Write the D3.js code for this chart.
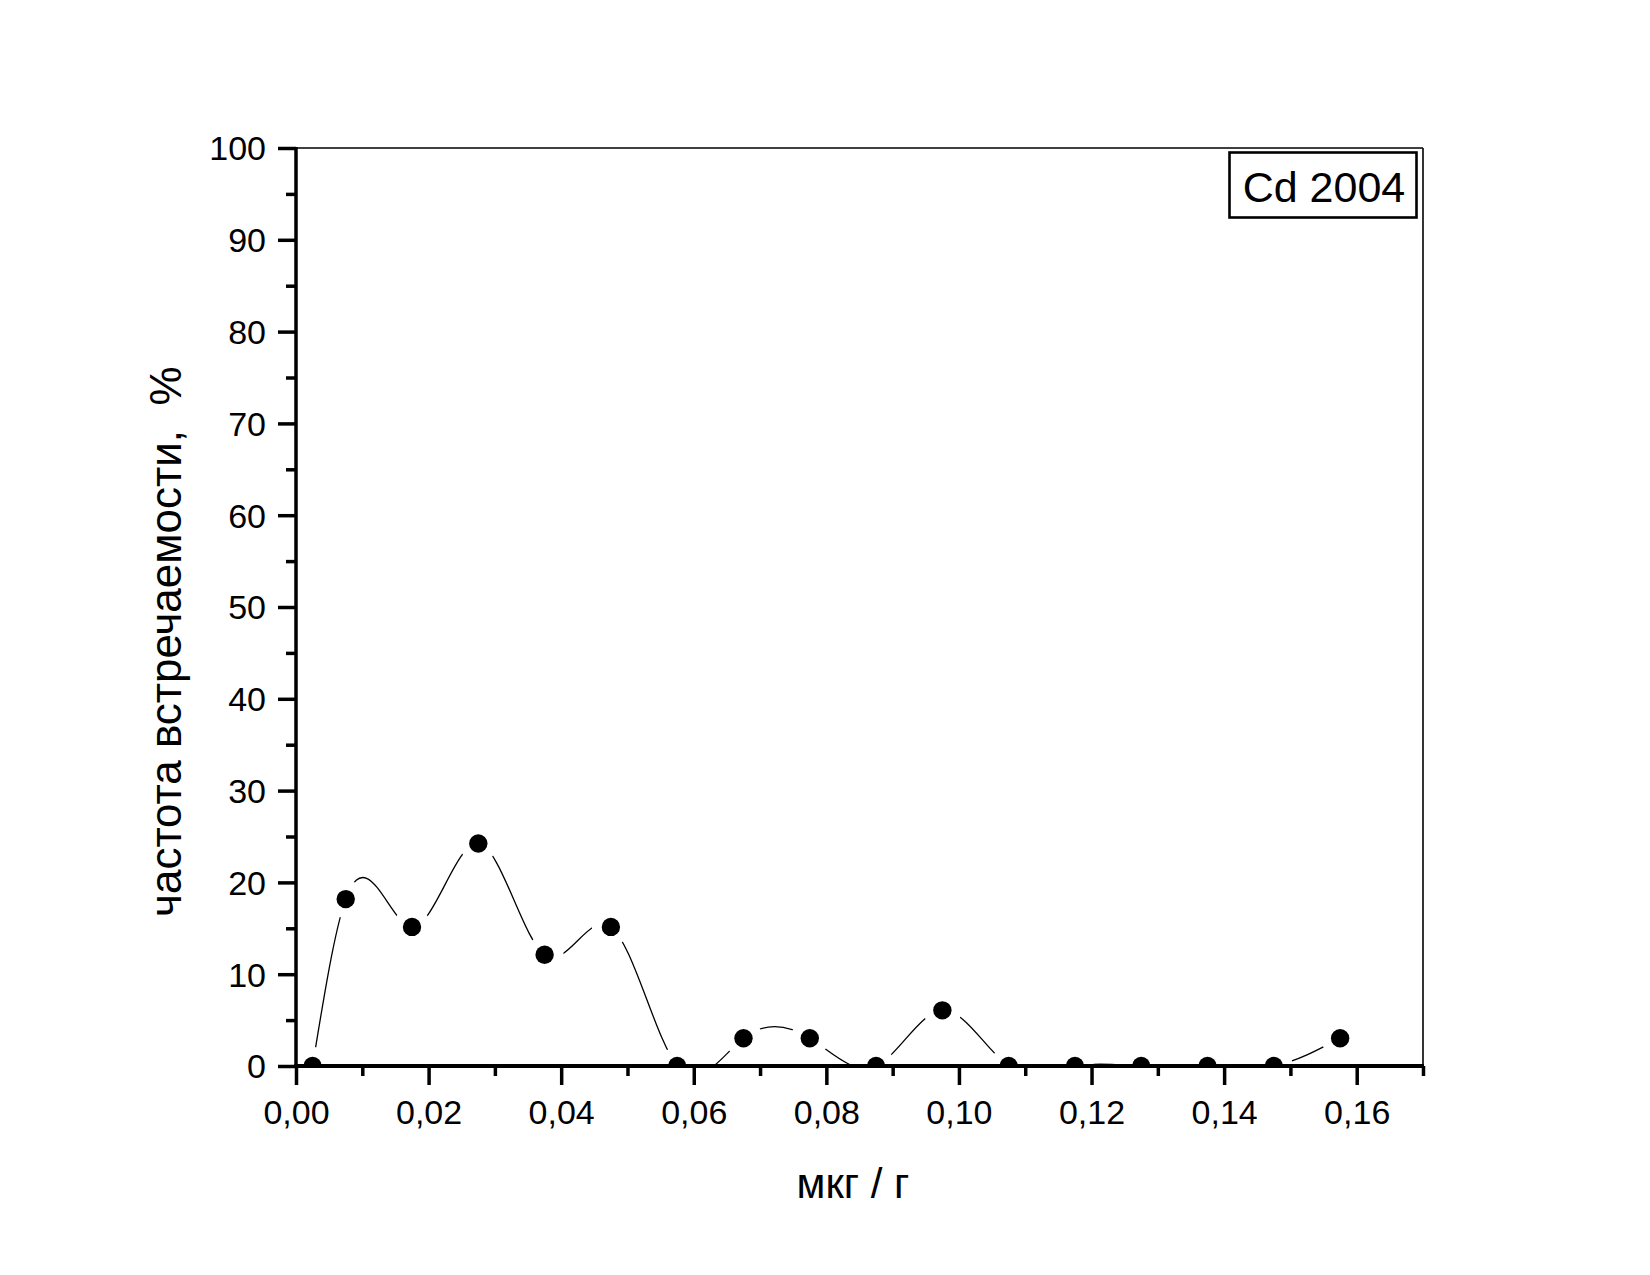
<!DOCTYPE html>
<html>
<head>
<meta charset="utf-8">
<script src="https://cdn.jsdelivr.net/npm/d3@7"></script>
<style>
  html, body { margin: 0; padding: 0; background: #fff; }
  svg { display: block; }
  text { font-family: Arial, "Liberation Sans", Helvetica, sans-serif; fill: #000; }
</style>
</head>
<body>
<svg id="chart" width="1650" height="1275"></svg>
<script>
// ---- data ----
const concentration = [0.0025, 0.0075, 0.0175, 0.0275, 0.0375, 0.0475, 0.0575, 0.0675, 0.0775, 0.0875, 0.0975, 0.1075, 0.1175, 0.1275, 0.1375, 0.1475, 0.1575];
const frequency = [0, 18.18, 15.15, 24.24, 12.12, 15.15, 0, 3.03, 3.03, 0, 6.06, 0, 0, 0, 0, 0, 3.03];
const xMajorTicks = [0, 0.02, 0.04, 0.06, 0.08, 0.10, 0.12, 0.14, 0.16];
const yMajorTicks = [0, 10, 20, 30, 40, 50, 60, 70, 80, 90, 100];
const labelText = "Cd 2004";
const xTitle = "мкг / г";
const yTitle = "частота встречаемости,  %";

// D3 curve factory: natural cubic spline y(x) (function spline, like Origin's "Spline" connect)
function SplineX(context) { this._context = context; }
SplineX.prototype = {
  areaStart() { this._line = 0; },
  areaEnd() { this._line = NaN; },
  lineStart() { this._x = []; this._y = []; },
  point(x, y) { this._x.push(+x); this._y.push(+y); },
  lineEnd() {
    const X = this._x, Y = this._y, n = X.length, ctx = this._context;
    if (!n) return;
    ctx.moveTo(X[0], Y[0]);
    if (n === 1) return;
    if (n === 2) { ctx.lineTo(X[1], Y[1]); return; }
    const h = [];
    for (let i = 0; i < n - 1; i++) h.push(X[i + 1] - X[i]);
    // tridiagonal system for second derivatives M (natural: M0 = Mn = 0)
    const M = new Array(n).fill(0);
    const a = [], b = [], c = [], r = [];
    for (let i = 1; i < n - 1; i++) {
      a.push(h[i - 1]); b.push(2 * (h[i - 1] + h[i])); c.push(h[i]);
      r.push(6 * ((Y[i + 1] - Y[i]) / h[i] - (Y[i] - Y[i - 1]) / h[i - 1]));
    }
    const m = b.length;
    for (let i = 1; i < m; i++) {
      const w = a[i] / b[i - 1];
      b[i] -= w * c[i - 1];
      r[i] -= w * r[i - 1];
    }
    const sol = new Array(m);
    sol[m - 1] = r[m - 1] / b[m - 1];
    for (let i = m - 2; i >= 0; i--) sol[i] = (r[i] - c[i] * sol[i + 1]) / b[i];
    for (let i = 0; i < m; i++) M[i + 1] = sol[i];
    for (let i = 0; i < n - 1; i++) {
      const hi = h[i], d = (Y[i + 1] - Y[i]) / hi;
      const s0 = d - hi * (2 * M[i] + M[i + 1]) / 6;
      const s1 = d + hi * (M[i] + 2 * M[i + 1]) / 6;
      ctx.bezierCurveTo(X[i] + hi / 3, Y[i] + s0 * hi / 3,
                        X[i + 1] - hi / 3, Y[i + 1] - s1 * hi / 3,
                        X[i + 1], Y[i + 1]);
    }
  }
};
const curveSplineX = context => new SplineX(context);

(function () {
// ---- layout ----
const W = 1650, H = 1275;
const pLeft = 296, pRight = 1423, pTop = 148, pBottom = 1066;

const svg = d3.select("#chart");
svg.append("rect").attr("width", W).attr("height", H).attr("fill", "#fff");

const x = d3.scaleLinear().domain([0, 0.17]).range([pLeft, pRight]);
const y = d3.scaleLinear().domain([0, 100]).range([pBottom, pTop]);

const defs = svg.append("defs");
defs.append("clipPath").attr("id", "plotClip")
  .append("rect").attr("x", pLeft).attr("y", pTop).attr("width", pRight - pLeft).attr("height", pBottom - pTop);

const points = concentration.map((c, i) => ({ c, f: frequency[i] }));

// mask creating gaps in the line around markers
const mask = defs.append("mask").attr("id", "gapMask").attr("maskUnits", "userSpaceOnUse")
  .attr("x", 0).attr("y", 0).attr("width", W).attr("height", H);
mask.append("rect").attr("width", W).attr("height", H).attr("fill", "#fff");
mask.selectAll("circle").data(points).enter().append("circle")
  .attr("cx", d => x(d.c)).attr("cy", d => y(d.f)).attr("r", 19).attr("fill", "#000");

// ---- spline line ----
const line = d3.line().x(d => x(d.c)).y(d => y(d.f)).curve(curveSplineX);
svg.append("g").attr("clip-path", "url(#plotClip)")
  .append("path")
  .datum(points)
  .attr("d", line)
  .attr("fill", "none")
  .attr("stroke", "#000")
  .attr("stroke-width", 1.3)
  .attr("mask", "url(#gapMask)");

// ---- frame (top/right thin) ----
svg.append("line").attr("x1", pLeft).attr("x2", pRight).attr("y1", pTop).attr("y2", pTop)
  .attr("stroke", "#000").attr("stroke-width", 1.6);
svg.append("line").attr("x1", pRight).attr("x2", pRight).attr("y1", pTop).attr("y2", pBottom)
  .attr("stroke", "#000").attr("stroke-width", 1.6);

// ---- axes ----
const xMinor = d3.range(0, 18).map(i => i * 0.01).filter(v => !xMajorTicks.some(m => Math.abs(m - v) < 1e-9));
const yMinor = d3.range(5, 100, 10);

const fmtX = v => d3.format(".2f")(v).replace(".", ",");

const xAxis = d3.axisBottom(x).tickValues(xMajorTicks).tickSize(19).tickFormat(fmtX).tickSizeOuter(0);
const gx = svg.append("g").attr("transform", `translate(0,${pBottom})`).call(xAxis);
gx.select(".domain").remove();
gx.selectAll(".tick line").attr("stroke", "#000").attr("stroke-width", 3.5);
gx.selectAll(".tick text").attr("font-size", 34).attr("dy", null).attr("y", 58)
  .style("font-family", "Arial, 'Liberation Sans', sans-serif");

const xAxisMinor = d3.axisBottom(x).tickValues(xMinor).tickSize(10).tickFormat("").tickSizeOuter(0);
const gxm = svg.append("g").attr("transform", `translate(0,${pBottom})`).call(xAxisMinor);
gxm.select(".domain").remove();
gxm.selectAll(".tick line").attr("stroke", "#000").attr("stroke-width", 3.5);

const yAxis = d3.axisLeft(y).tickValues(yMajorTicks).tickSize(18).tickFormat(d3.format("d")).tickSizeOuter(0);
const gy = svg.append("g").attr("transform", `translate(${pLeft},0)`).call(yAxis);
gy.select(".domain").remove();
gy.selectAll(".tick line").attr("stroke", "#000").attr("stroke-width", 3.5);
gy.selectAll(".tick text").attr("font-size", 34).attr("x", -30).attr("dy", "0.35em")
  .style("font-family", "Arial, 'Liberation Sans', sans-serif");

const yAxisMinor = d3.axisLeft(y).tickValues(yMinor).tickSize(10).tickFormat("").tickSizeOuter(0);
const gym = svg.append("g").attr("transform", `translate(${pLeft},0)`).call(yAxisMinor);
gym.select(".domain").remove();
gym.selectAll(".tick line").attr("stroke", "#000").attr("stroke-width", 3.5);

// thick axis lines
svg.append("line").attr("x1", pLeft - 1.75).attr("x2", pRight + 1).attr("y1", pBottom).attr("y2", pBottom)
  .attr("stroke", "#000").attr("stroke-width", 4);
svg.append("line").attr("x1", pLeft).attr("x2", pLeft).attr("y1", pTop - 1).attr("y2", pBottom)
  .attr("stroke", "#000").attr("stroke-width", 3.5);

// ---- markers ----
svg.append("g").attr("clip-path", "url(#plotClip)")
  .selectAll("circle").data(points).enter().append("circle")
  .attr("cx", d => x(d.c)).attr("cy", d => y(d.f)).attr("r", 9.2).attr("fill", "#000");

// ---- label box ----
svg.append("rect").attr("x", 1229.5).attr("y", 152.5).attr("width", 187).attr("height", 65)
  .attr("fill", "#fff").attr("stroke", "#000").attr("stroke-width", 2.6);
svg.append("text").attr("x", 1324).attr("y", 202).attr("text-anchor", "middle")
  .attr("font-size", 43).text(labelText);

// ---- titles ----
svg.append("text").attr("x", 853).attr("y", 1198).attr("text-anchor", "middle")
  .attr("font-size", 42).text(xTitle);
svg.append("text").attr("transform", "translate(181,917) rotate(-90)")
  .attr("text-anchor", "start").attr("font-size", 44)
  .style("white-space", "pre").text(yTitle);
})();
</script>
</body>
</html>
